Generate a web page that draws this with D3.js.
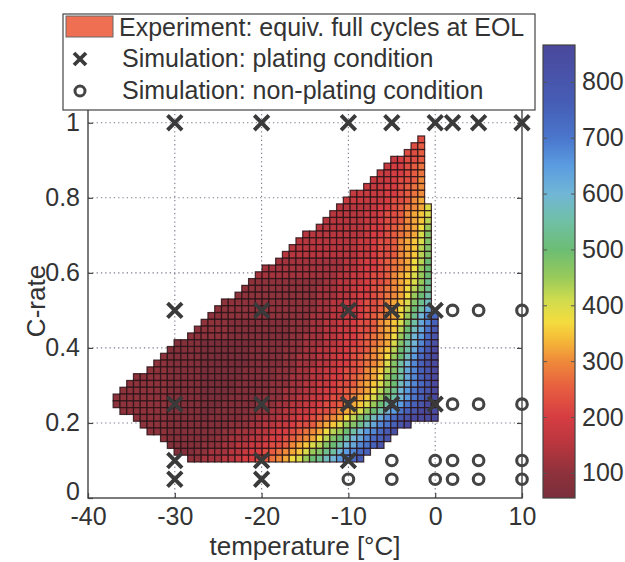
<!DOCTYPE html>
<html><head><meta charset="utf-8">
<script src="https://cdn.jsdelivr.net/npm/d3@7"></script>
<style>
body{margin:0;background:#fff;}
text{font-family:"Liberation Sans",Arial,Helvetica,sans-serif;fill:#333;}
</style>
</head><body>
<svg id="chart" width="625" height="562"></svg>
<script>
// ---------------- data ----------------
const xTicks = [-40, -30, -20, -10, 0, 10];
const xTickLabels = ["-40", "-30", "-20", "-10", "0", "10"];
const yTicks = [0, 0.2, 0.4, 0.6, 0.8, 1];
const yTickLabels = ["0", "0.2", "0.4", "0.6", "0.8", "1"];
const colorTicks = [100, 200, 300, 400, 500, 600, 700, 800];
const colorDomain = [55, 866];
const colorStopValues = [55, 100, 150, 200, 250, 300, 340, 370, 410, 450, 500, 550, 600, 650, 700, 760, 866];
const colorStopColors = ["#7a2e3a","#8e323c","#b8363e","#d63d42","#e65c40","#ef8a3a","#f5bc38","#f4dc3e",
                         "#cfdc4e","#98ca5a","#6cbd74","#70c0a6","#70b6d6","#5a9ce0","#4a76cc","#465eb6","#4a489c"];

// experiment grid (temperature / C-rate cells)
const tempStart = -37.1, tempStep = 0.78;
const crateStart = 0.096, crateStep = 0.0181;
// value levels: code index k -> 50 + 25*k equivalent full cycles
const levelCodes = "0123456789ABCDEFGHIJKLMNOPQRSTUVW";
const levelBase = 50, levelStep = 25;
// rows from top (highest C-rate) to bottom: [first column, codes]
const cycleRows = [
  [45, "7"],
  [44, "78"],
  [43, "778"],
  [41, "56778"],
  [40, "566789"],
  [39, "5566789"],
  [38, "5556778A"],
  [37, "55566789A"],
  [35, "5555566789A"],
  [34, "5555556778AB"],
  [33, "44444566789ABE"],
  [32, "44444556778ABCE"],
  [31, "444444556778ABCF"],
  [30, "4444444566789ABDG"],
  [28, "444444444566789ABEH"],
  [27, "444444444556778ABCEH"],
  [26, "4444444444556778ABCFH"],
  [25, "44444444444556778ABCFH"],
  [24, "333333333344566789ABDFI"],
  [22, "33333333333344566789ABDGI"],
  [21, "33333333333344556778ABCEGI"],
  [20, "222222222223344556778ABCEGJ"],
  [19, "2222222222233344566789ABDFHJ"],
  [18, "22222222222233344566789ABDGIK"],
  [16, "222222222222223344556778ABCEHJL"],
  [15, "2222222222222223344556778ABDFIKN"],
  [14, "22222222222222233344566789ABDGJMPR"],
  [13, "22221111111112223344556778ABCEHKNPS"],
  [12, "222221111111112223344556778ABCFILNQT"],
  [11, "2222221111111112233344566789ABDGJMORU"],
  [9,  "111100000000111112233344566789ABEHKMPSV"],
  [8,  "111110000000111112223344556778ABCFIKNQTW"],
  [7,  "2111110000000111112233344566789ABDGILORUW"],
  [6,  "22111110000000111112233344566789ABEHKMPSVW"],
  [5,  "22211111000000111112223344556778ABCFHKNPSUW"],
  [3,  "2222211111000000111112233344566789ABDGIKNPSUW"],
  [2,  "2222221111100000111112223344556778ABCEGILNPRTW"],
  [1,  "22222221111100000111112233344566789ABDFHJMOQSUW"],
  [0,  "222222221111100001111122233445567778ABCEGIKMOQSUW".replace("7778", "778")],
  [0,  "2222222211111000111112223344556778ABCEGIKMOQSUWW"],
  [1,  "22222221111100111112223344556778ABCEGIKMOQSUWWW"],
  [3,  "22222111110111112233344566789ABDFHJLNPRTVWWWW"],
  [4,  "22221111111112223344556778ABCEGHJLNPQSUW"],
  [5,  "222111111112233344566789ABDFGIKMOPRTV"],
  [7,  "211111112233344566789ABDFHIKMNPRSU"],
  [8,  "111112223344556778ABCEFHIKMNPQSU"],
  [9,  "1112233344566789ABCEGHJKMOPRS"],
  [11, "2233344566789ABDEGIJLMOQRT"]
];

// simulation points [temperature, C-rate]
const platingPoints = [[-30,1],[-20,1],[-10,1],[-5,1],[0,1],[2,1],[5,1],[10,1],
  [-30,0.5],[-20,0.5],[-10,0.5],[-5,0.5],[0,0.5],
  [-30,0.25],[-20,0.25],[-10,0.25],[-5,0.25],[0,0.25],
  [-30,0.1],[-20,0.1],[-10,0.1],
  [-30,0.05],[-20,0.05]];
const nonPlatingPoints = [[2,0.5],[5,0.5],[10,0.5],
  [2,0.25],[5,0.25],[10,0.25],
  [-5,0.1],[0,0.1],[2,0.1],[5,0.1],[10,0.1],
  [-10,0.05],[-5,0.05],[0,0.05],[2,0.05],[5,0.05],[10,0.05]];

const legendLabels = ["Experiment: equiv. full cycles at EOL",
                      "Simulation: plating condition",
                      "Simulation: non-plating condition"];
const xLabel = "temperature [°C]";
const yLabel = "C-rate";

// ---------------- drawing ----------------
const svg = d3.select("#chart");
const x = d3.scaleLinear().domain([-40, 10]).range([88, 522]);
const y = d3.scaleLinear().domain([0, 1.05]).range([498, 104]);
const color = d3.scaleLinear().domain(colorStopValues).range(colorStopColors)
  .interpolate(d3.interpolateRgb).clamp(true);

// grid
const grid = svg.append("g").attr("stroke", "#7a7a8c").attr("stroke-width", 1.1)
  .attr("stroke-dasharray", "1.3,3");
grid.selectAll("line.gx").data(xTicks.filter(t => t > -40 && t < 10)).join("line")
  .attr("class", "gx").attr("x1", d => x(d)).attr("x2", d => x(d))
  .attr("y1", y(0)).attr("y2", y(1.05));
grid.selectAll("line.gy").data(yTicks.filter(t => t > 0)).join("line")
  .attr("class", "gy").attr("x1", x(-40)).attr("x2", x(10))
  .attr("y1", d => y(d)).attr("y2", d => y(d));

// cells
const cells = [];
cycleRows.forEach(([start, codes], k) => {
  const row = cycleRows.length - 1 - k;
  [...codes].forEach((ch, j) => {
    const col = start + j;
    cells.push({
      t0: tempStart + col * tempStep,
      t1: tempStart + (col + 1) * tempStep,
      c0: crateStart + row * crateStep,
      c1: crateStart + (row + 1) * crateStep,
      v: levelBase + levelStep * levelCodes.indexOf(ch)
    });
  });
});
svg.append("g").selectAll("rect").data(cells).join("rect")
  .attr("x", d => x(d.t0)).attr("width", d => x(d.t1) - x(d.t0))
  .attr("y", d => y(d.c1)).attr("height", d => y(d.c0) - y(d.c1))
  .attr("fill", d => color(d.v))
  .attr("stroke", "#2a1418").attr("stroke-width", 1.25).attr("stroke-opacity", 0.85);

// axes box
svg.append("rect").attr("x", x(-40)).attr("y", y(1.05))
  .attr("width", x(10) - x(-40)).attr("height", y(0) - y(1.05))
  .attr("fill", "none").attr("stroke", "#444").attr("stroke-width", 1.4);

const fs = "25px";
const xAxis = svg.append("g").attr("transform", `translate(0,${y(0)})`)
  .call(d3.axisBottom(x).tickValues(xTicks).tickFormat((d, i) => xTickLabels[i])
    .tickSizeInner(-5).tickSizeOuter(0).tickPadding(9));
const yAxis = svg.append("g").attr("transform", `translate(${x(-40)},0)`)
  .call(d3.axisLeft(y).tickValues(yTicks).tickFormat((d, i) => yTickLabels[i])
    .tickSizeInner(-5).tickSizeOuter(0).tickPadding(8));
const yAxisR = svg.append("g").attr("transform", `translate(${x(10)},0)`)
  .call(d3.axisRight(y).tickValues(yTicks.filter(t => t > 0)).tickFormat("")
    .tickSizeInner(-5).tickSizeOuter(0));
[xAxis, yAxis, yAxisR].forEach(g => {
  g.select(".domain").remove();
  g.selectAll(".tick line").attr("stroke", "#444").attr("stroke-width", 1.2);
  g.selectAll(".tick text").attr("font-size", fs).attr("fill", "#333")
    .attr("font-family", '"Liberation Sans",Arial,sans-serif');
});
// lift the "0" label slightly so it clears the "-40" label below it
yAxis.selectAll(".tick text").filter(d => d === 0).attr("dy", "0.05em");

// axis titles
svg.append("text").attr("x", (x(-40) + x(10)) / 2).attr("y", 555)
  .attr("text-anchor", "middle").attr("font-size", "26px").text(xLabel);
svg.append("text").attr("transform", `translate(45,${(y(0) + y(1.05)) / 2}) rotate(-90)`)
  .attr("text-anchor", "middle").attr("font-size", "26px").text(yLabel);

// markers
const xMark = (g, cx, cy, s, w) => {
  g.append("path").attr("d", `M${cx - s},${cy - s}L${cx + s},${cy + s}M${cx - s},${cy + s}L${cx + s},${cy - s}`)
    .attr("stroke", "#3a3a3a").attr("stroke-width", w).attr("fill", "none");
};
const mk = svg.append("g");
platingPoints.forEach(([t, c]) => xMark(mk, x(t), y(c), 7.3, 3.9));
mk.selectAll("circle").data(nonPlatingPoints).join("circle")
  .attr("cx", d => x(d[0])).attr("cy", d => y(d[1])).attr("r", 5.3)
  .attr("fill", "none").attr("stroke", "#444").attr("stroke-width", 3.1);

// legend
const lg = svg.append("g");
lg.append("rect").attr("x", 63).attr("y", 14).attr("width", 472).attr("height", 96)
  .attr("fill", "#fff").attr("stroke", "#444").attr("stroke-width", 1.2);
lg.append("rect").attr("x", 66).attr("y", 16).attr("width", 47).attr("height", 21)
  .attr("fill", "#ef6f52").attr("stroke", "#666").attr("stroke-width", 1);
xMark(lg, 80, 59, 6, 3.8);
lg.append("circle").attr("cx", 80).attr("cy", 91).attr("r", 5)
  .attr("fill", "none").attr("stroke", "#444").attr("stroke-width", 3);
[[119, 36], [122, 67], [122, 99]].forEach(([tx, ty], i) => {
  lg.append("text").attr("x", tx).attr("y", ty).attr("font-size", fs).text(legendLabels[i]);
});

// colorbar
const cb = d3.scaleLinear().domain(colorDomain).range([498, 45]);
const defs = svg.append("defs");
const grad = defs.append("linearGradient").attr("id", "cbgrad")
  .attr("x1", 0).attr("y1", 1).attr("x2", 0).attr("y2", 0);
grad.selectAll("stop").data(colorStopValues).join("stop")
  .attr("offset", d => (d - colorDomain[0]) / (colorDomain[1] - colorDomain[0]))
  .attr("stop-color", (d, i) => colorStopColors[i]);
svg.append("rect").attr("x", 543).attr("y", cb(colorDomain[1]))
  .attr("width", 32).attr("height", cb(colorDomain[0]) - cb(colorDomain[1]))
  .attr("fill", "url(#cbgrad)").attr("stroke", "#444").attr("stroke-width", 1.2);
const cbAxis = svg.append("g").attr("transform", "translate(575,0)")
  .call(d3.axisRight(cb).tickValues(colorTicks).tickSizeInner(-4).tickSizeOuter(0).tickPadding(7));
const cbAxisL = svg.append("g").attr("transform", "translate(543,0)")
  .call(d3.axisLeft(cb).tickValues(colorTicks).tickFormat("").tickSizeInner(-4).tickSizeOuter(0));
[cbAxis, cbAxisL].forEach(g => {
  g.select(".domain").remove();
  g.selectAll(".tick line").attr("stroke", "#555").attr("stroke-width", 1);
  g.selectAll(".tick text").attr("font-size", fs).attr("fill", "#333")
    .attr("font-family", '"Liberation Sans",Arial,sans-serif');
});
</script>
</body></html>
